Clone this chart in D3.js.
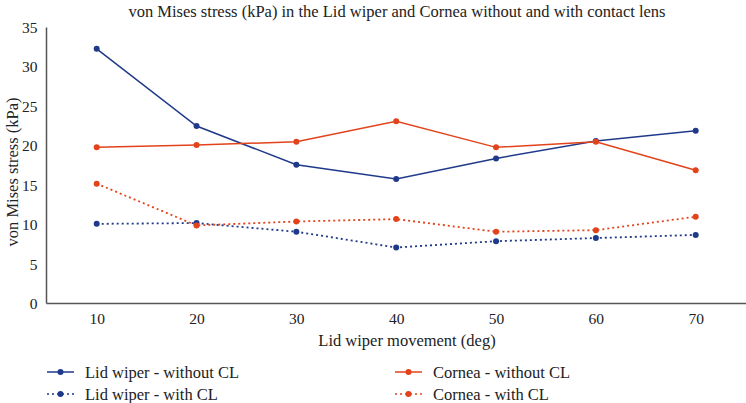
<!DOCTYPE html>
<html>
<head>
<meta charset="utf-8">
<script src="https://cdn.jsdelivr.net/npm/d3@7"></script>
<style>
  body { margin: 0; background: #fff; }
  svg, svg text { font-family: "Liberation Serif", "DejaVu Serif", serif; }
</style>
</head>
<body>
<div id="chart"></div>
<script>
// data
const angles = [10, 20, 30, 40, 50, 60, 70];
const lidWithout = [32.3, 22.5, 17.6, 15.8, 18.4, 20.6, 21.9];
const lidWith = [10.1, 10.2, 9.1, 7.1, 7.9, 8.3, 8.7];
const corneaWithout = [19.8, 20.1, 20.5, 23.1, 19.8, 20.5, 16.9];
const corneaWith = [15.2, 9.9, 10.4, 10.7, 9.1, 9.3, 11.0];
const yTicks = [0, 5, 10, 15, 20, 25, 30, 35];

const series = [
    { name: "Lid wiper - without CL", values: lidWithout, color: "#1f3a8a", dash: null },
    { name: "Lid wiper - with CL", values: lidWith, color: "#1f3a8a", dash: "2,3" },
    { name: "Cornea - without CL", values: corneaWithout, color: "#e2431b", dash: null },
    { name: "Cornea - with CL", values: corneaWith, color: "#e2431b", dash: "2,3" }
];

const serif = '"Liberation Serif", "DejaVu Serif", serif';
const width = 746, height = 403;
const svg = d3.select("#chart").append("svg")
    .attr("width", width)
    .attr("height", height);

const x = d3.scalePoint()
    .domain(angles)
    .range([96.7, 695.7]);

const y = d3.scaleLinear()
    .domain([0, 35])
    .range([303.5, 27.5]);

// title
svg.append("text")
    .attr("x", 397)
    .attr("y", 17)
    .attr("text-anchor", "middle")
    .style("font-size", "16.5px")
    .attr("fill", "#222")
    .text("von Mises stress (kPa) in the Lid wiper and Cornea without and with contact lens");

// y axis
const yAxis = svg.append("g")
    .attr("transform", "translate(46.5,0)")
    .call(d3.axisLeft(y).tickValues(yTicks).tickSize(0).tickPadding(9));
yAxis.attr("font-family", serif).attr("font-size", 15.5);
yAxis.select(".domain").attr("stroke", "#555").attr("stroke-width", 1.5)
    .attr("d", `M0,${y(35)}V${y(0)}`);
yAxis.selectAll("text").style("font-family", serif).style("font-size", "15.5px").attr("fill", "#222");

// x axis
const xAxis = svg.append("g")
    .attr("transform", `translate(0,${y(0)})`)
    .call(d3.axisBottom(x).tickSize(0).tickPadding(9));
xAxis.attr("font-family", serif).attr("font-size", 15.5);
xAxis.select(".domain").attr("stroke", "#555").attr("stroke-width", 1.5)
    .attr("d", `M46.5,0H${width}`);
xAxis.selectAll("text").style("font-family", serif).style("font-size", "15.5px").attr("fill", "#222");

// axis titles
svg.append("text")
    .attr("x", 407)
    .attr("y", 345.5)
    .attr("text-anchor", "middle")
    .style("font-size", "16.5px")
    .attr("fill", "#222")
    .text("Lid wiper movement (deg)");

svg.append("text")
    .attr("transform", "translate(18,172) rotate(-90)")
    .attr("text-anchor", "middle")
    .style("font-size", "16.5px")
    .attr("fill", "#222")
    .text("von Mises stress (kPa)");

// lines
const line = d3.line()
    .x((d, i) => x(angles[i]))
    .y(d => y(d));

const g = svg.append("g");
series.forEach(s => {
    g.append("path")
        .datum(s.values)
        .attr("fill", "none")
        .attr("stroke", s.color)
        .attr("stroke-width", s.dash ? 1.8 : 1.5)
        .attr("stroke-dasharray", s.dash)
        .attr("d", line);
    g.selectAll(null)
        .data(s.values)
        .join("circle")
        .attr("cx", (d, i) => x(angles[i]))
        .attr("cy", d => y(d))
        .attr("r", 3)
        .attr("fill", s.color);
});

// legend
const legendPos = [
    { x: 47, y: 372 },
    { x: 47, y: 394 },
    { x: 395, y: 372 },
    { x: 395, y: 394 }
];
series.forEach((s, i) => {
    const p = legendPos[i];
    const lg = svg.append("g").attr("transform", `translate(${p.x},${p.y})`);
    lg.append("line")
        .attr("x1", 0).attr("x2", 27)
        .attr("stroke", s.color)
        .attr("stroke-width", s.dash ? 1.6 : 1.5)
        .attr("stroke-dasharray", s.dash);
    lg.append("circle").attr("cx", 13.5).attr("r", 3).attr("fill", s.color);
    lg.append("text")
        .attr("x", 38)
        .attr("dy", "0.35em")
        .style("font-size", "16.5px")
        .attr("fill", "#222")
        .text(s.name);
});
</script>
</body>
</html>
